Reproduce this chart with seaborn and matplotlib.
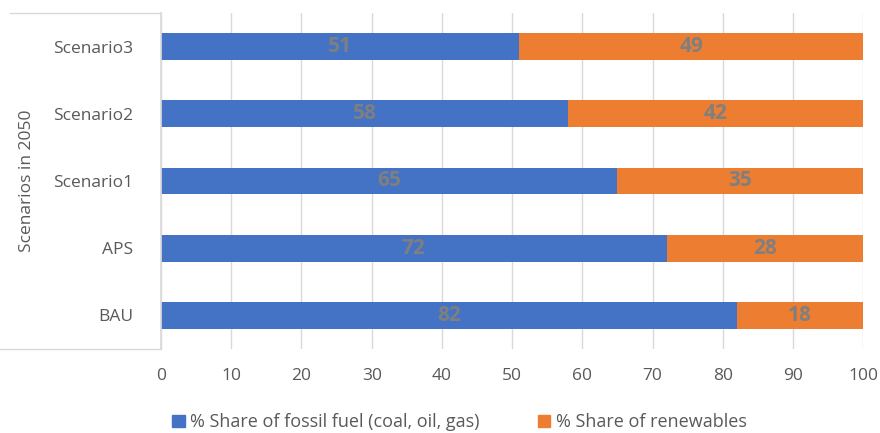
import pandas as pd
import matplotlib.pyplot as plt
import seaborn as sns
from matplotlib.lines import Line2D
from matplotlib.patches import Patch

sns.set_theme(style="white")
plt.rcParams['font.family'] = ['Open Sans', 'DejaVu Sans']

scenarios = ["Scenario3", "Scenario2", "Scenario1", "APS", "BAU"]
fossil = [51, 58, 65, 72, 82]
renewables = [49, 42, 35, 28, 18]

df = pd.DataFrame({"scenario": scenarios, "fossil": fossil, "renewables": renewables})
df["total"] = df["fossil"] + df["renewables"]

blue = "#4472C4"
orange = "#ED7D31"
grid = "#D9D9D9"
txt = "#595959"

fig = plt.figure(figsize=(8.8, 4.33), dpi=100)
ax = fig.add_axes([0.183, 0.194, 0.798, 0.776])

sns.barplot(data=df, y="scenario", x="total", color=orange, width=0.4, ax=ax, orient="h",
            saturation=1, edgecolor="none")
sns.barplot(data=df, y="scenario", x="fossil", color=blue, width=0.4, ax=ax, orient="h",
            saturation=1, edgecolor="none")

for i, row in df.iterrows():
    ax.text(row["fossil"] / 2, i, str(row["fossil"]), ha="center", va="center",
            color="#7F7F7F", fontsize=15, fontweight="bold")
    ax.text(row["fossil"] + row["renewables"] / 2, i, str(row["renewables"]), ha="center",
            va="center", color="#7F7F7F", fontsize=15, fontweight="bold")

ax.set_xlim(0, 100)
ax.set_ylim(4.5, -0.5)
ax.set_xticks(range(0, 101, 10))
ax.xaxis.grid(True, color=grid, linewidth=1)
ax.set_axisbelow(True)
for s in ["top", "right", "bottom"]:
    ax.spines[s].set_visible(False)
ax.spines["left"].set_color(grid)
ax.tick_params(axis="both", length=0, colors=txt, labelsize=12.5)
ax.tick_params(axis="x", pad=14)
ax.tick_params(axis="y", pad=20)
ax.set_xlabel("")
ax.set_ylabel("Scenarios in 2050", color=txt, fontsize=12.5, labelpad=13)

# category border lines, like the original
fig.add_artist(Line2D([10 / 880, 0.183], [0.97, 0.97], color=grid, linewidth=1))
fig.add_artist(Line2D([0.0, 0.183], [0.194, 0.194], color=grid, linewidth=1))

handles = [Patch(color=blue, label="% Share of fossil fuel (coal, oil, gas)"),
           Patch(color=orange, label="% Share of renewables")]
fig.legend(handles=handles, loc="center", bbox_to_anchor=(0.522, 0.025), ncol=2,
           frameon=False, fontsize=13, labelcolor=txt, handlelength=0.7, handleheight=0.7,
           columnspacing=3.2, handletextpad=0.3)

fig.savefig("out.png", dpi=100)
